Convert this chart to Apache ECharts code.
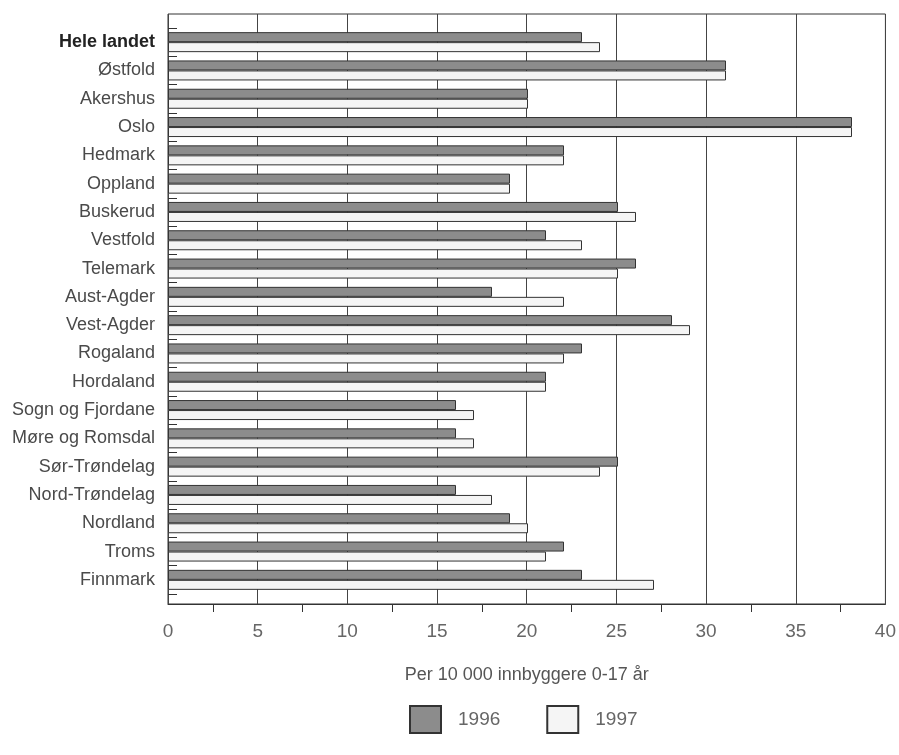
<!DOCTYPE html>
<html>
<head>
<meta charset="utf-8">
<script src="https://cdn.jsdelivr.net/npm/echarts@6/dist/echarts.min.js"></script>
<style>
html,body{margin:0;padding:0;background:#fff;}
#chart{width:899px;height:755px;}
</style>
</head>
<body>
<div id="chart"></div>
<script>
const categories = ["Hele landet","Østfold","Akershus","Oslo","Hedmark","Oppland","Buskerud","Vestfold","Telemark","Aust-Agder","Vest-Agder","Rogaland","Hordaland","Sogn og Fjordane","Møre og Romsdal","Sør-Trøndelag","Nord-Trøndelag","Nordland","Troms","Finnmark"];
const values1996 = [23,31,20,38,22,19,25,21,26,18,28,23,21,16,16,25,16,19,22,23];
const values1997 = [24,31,20,38,22,19,26,23,25,22,29,22,21,17,17,24,18,20,21,27];
const xTicks = [0,5,10,15,20,25,30,35,40];
const xName = "Per 10 000 innbyggere 0-17 år";

const FONT = "'Liberation Sans', Arial, sans-serif";
const NARROW = "'Liberation Sans Narrow', 'Arial Narrow', 'Liberation Sans', sans-serif";
const chart = echarts.init(document.getElementById('chart'), null, {renderer:'canvas'});
chart.setOption({
  animation:false,
  backgroundColor:'#fff',
  grid:[
    {left:168, right:11, top:14, bottom:151, show:true, borderColor:'#333', borderWidth:1, backgroundColor:'transparent'},
    {left:168, right:11, top:28, bottom:161}
  ],
  xAxis:[
    {gridIndex:0, type:'value', min:xTicks[0], max:xTicks[xTicks.length-1], interval:5,
     name:xName, nameLocation:'middle', nameGap:62,
     nameTextStyle:{fontFamily:FONT, fontSize:18, color:'#555'},
     axisLine:{show:true, lineStyle:{color:'#333', width:1}},
     axisTick:{show:false},
     minorTick:{show:true, splitNumber:2, length:8, lineStyle:{color:'#333', width:1}},
     axisLabel:{fontFamily:FONT, fontSize:19, color:'#666', margin:18},
     splitLine:{show:true, lineStyle:{color:'#444', width:1}}
    },
    {gridIndex:1, type:'value', min:xTicks[0], max:xTicks[xTicks.length-1], interval:5, show:false}
  ],
  yAxis:[
    {gridIndex:0, type:'value', show:false, min:0, max:1},
    {gridIndex:1, type:'category', data:categories, inverse:true,
     axisLine:{show:false},
     axisTick:{show:true, inside:true, length:9, lineStyle:{color:'#333'}},
     axisLabel:{fontFamily:FONT, fontSize:18, color:'#4a4a4a', margin:13,
       formatter:function(v){return v==='Hele landet' ? '{b|'+v+'}' : v;},
       rich:{b:{fontFamily:NARROW, fontSize:18, fontWeight:'bold', color:'#222'}}}
    }
  ],
  legend:{
    left:409, top:705, padding:0, itemWidth:31, itemHeight:27, itemGap:46,
    icon:'rect',
    textStyle:{fontFamily:FONT, fontSize:19, color:'#666', padding:[0,0,0,12]},
    data:['1996','1997']
  },
  series:[
    {name:'1996', type:'bar', xAxisIndex:1, yAxisIndex:1, data:values1996, barWidth:10, barGap:'0%',
     itemStyle:{color:'#8c8c8c', borderColor:'#333', borderWidth:1}},
    {name:'1997', type:'bar', xAxisIndex:1, yAxisIndex:1, data:values1997, barWidth:10, barGap:'0%',
     itemStyle:{color:'#f5f5f5', borderColor:'#333', borderWidth:1}}
  ]
});
</script>
</body>
</html>
